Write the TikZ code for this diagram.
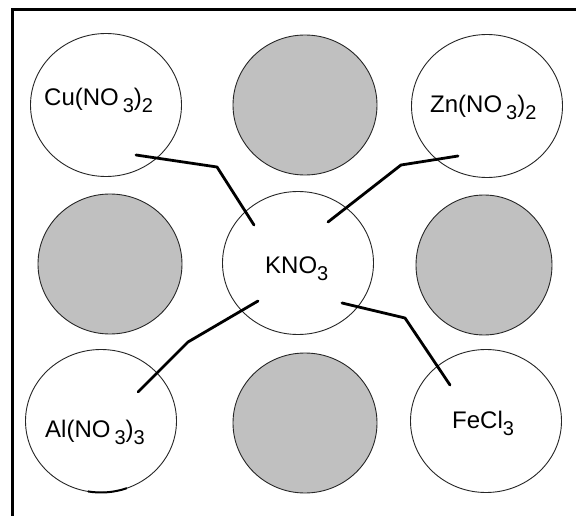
\documentclass[tikz,border=0pt]{standalone}
\usepackage{fontspec}
\setmainfont{Liberation Sans}
\usetikzlibrary{shapes.geometric}
\newcommand\lowsub[1]{\raisebox{-7pt}{\fontsize{20}{20}\selectfont #1}}
\begin{document}
\begin{tikzpicture}[x=1pt,y=-1pt,
  ion/.style={ellipse,draw=black!85,line width=0.9pt,minimum width=151pt,minimum height=143pt,inner sep=0pt,fill=white},
  blank/.style={ellipse,draw=black!85,line width=0.9pt,minimum width=144pt,minimum height=140pt,inner sep=0pt,fill={rgb,255:red,192;green,192;blue,192}},
  lbl/.style={anchor=base west,inner sep=0pt,font=\fontsize{24}{24}\selectfont},
  wire/.style={line width=2.8pt,line join=round,line cap=round,black},
  frame/.style={line width=3pt,black}]
\useasboundingbox (0,0) rectangle (576,516);
% frame
\coordinate (fb) at (12,516);
\coordinate (fc) at (12,10);
\coordinate (fr) at (576,10);
\draw[frame] (fb) -- (fc) -- (fr);
% circles
\node[ion] (cu) at (106,105) {};
\node[blank] (g1) at (305,105) {};
\node[ion] (zn) at (487,106) {};
\node[blank] (g2) at (110,264) {};
\node[ion] (kno) at (298,263) {};
\node[blank,minimum width=136pt] (g3) at (484,265) {};
\node[ion] (al) at (101,421) {};
\node[blank] (g4) at (305,423) {};
\node[ion] (fe) at (486,421) {};
% labels
\node[lbl] (cuL) at (44,106) {Cu(NO\,\lowsub{3})\lowsub{2}};
\node[lbl] (znL) at (430,113) {Zn(NO\,\lowsub{3})\lowsub{2}};
\node[lbl] (knoL) at (265,273) {KNO\lowsub{3}};
\node[lbl] (alL) at (45,437) {Al(NO\,\lowsub{3})\lowsub{3}};
\node[lbl] (feL) at (452,428) {FeCl\lowsub{3}};
% bottom mark on Al circle
\draw[line width=2pt,black] ([shift={(101,421)}]100:75.5 and 71.5) arc[start angle=100,end angle=70,x radius=75.5,y radius=71.5];
% connectors
\coordinate (a1) at (136,155);
\coordinate (a2) at (217,167);
\coordinate (a3) at (254,225);
\draw[wire] (a1) -- (a2) -- (a3);
\coordinate (b1) at (328,222);
\coordinate (b2) at (401,165);
\coordinate (b3) at (458,156);
\draw[wire] (b1) -- (b2) -- (b3);
\coordinate (c1) at (258,301);
\coordinate (c2) at (188,342);
\coordinate (c3) at (138,392);
\draw[wire] (c1) -- (c2) -- (c3);
\coordinate (d1) at (342,303);
\coordinate (d2) at (405,318);
\coordinate (d3) at (450,385);
\draw[wire] (d1) -- (d2) -- (d3);
\end{tikzpicture}
\end{document}
